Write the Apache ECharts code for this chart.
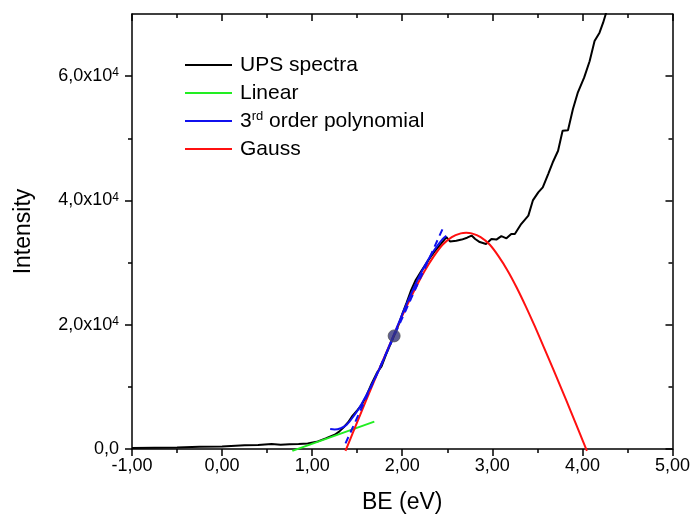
<!DOCTYPE html>
<html><head><meta charset="utf-8">
<script src="https://cdn.jsdelivr.net/npm/echarts@6/dist/echarts.min.js"></script>
<style>html,body{margin:0;padding:0;background:#fff}#c{width:693px;height:519px}</style>
</head><body><div id="c"></div>
<script>
// UPS spectrum (BE in eV, intensity)
const upsBE = [-1.00,-0.75,-0.50,-0.25,0.00,0.10,0.25,0.40,0.55,0.65,0.75,0.85,0.95,1.05,1.15,1.25,1.30,1.35,1.40,1.44,1.50,1.55,1.60,1.66,1.72,1.77,1.82,1.865,1.91,1.96,2.00,2.05,2.10,2.15,2.215,2.30,2.36,2.43,2.49,2.53,2.60,2.66,2.72,2.77,2.81,2.86,2.93,2.99,3.045,3.10,3.157,3.21,3.25,3.32,3.40,3.45,3.51,3.56,3.62,3.67,3.73,3.78,3.84,3.895,3.95,4.02,4.08,4.135,4.19,4.23,4.27];
const upsInt = [150,200,250,350,400,500,600,650,800,700,750,800,900,1150,1700,2300,2800,3500,4300,5200,6200,7100,8500,10500,12300,13300,15200,16700,18200,20000,21700,23600,25600,27200,28700,30600,31800,33000,34100,33400,33500,33700,34000,34350,33800,33300,33000,33800,33700,34250,33900,34600,34600,36200,37550,40000,41300,42100,44250,46100,48000,51200,51300,54700,57400,59800,62400,65650,67000,68600,70500];
// Linear fit
const linBE = [0.78, 1.69];
const linInt = [-300, 4400];
// 3rd order polynomial (solid)
const polyBE = [1.20,1.25,1.31,1.38,1.48,1.55,1.65,1.75,1.85,1.95,2.05,2.15,2.25,2.35,2.45,2.49];
const polyInt = [3200,3150,3300,3850,5700,7300,10000,13000,16400,19900,23400,26600,29500,31900,33800,34300];
// tangent (dashed blue)
const tanBE = [1.37, 2.46];
const tanInt = [900, 35800];
// Gauss fit
const gaussBE = [1.37,1.45,1.55,1.65,1.75,1.85,1.95,2.05,2.15,2.25,2.35,2.45,2.55,2.65,2.71,2.77,2.87,2.97,3.07,3.17,3.27,3.37,3.47,3.57,3.67,3.77,3.87,3.97,4.05];
const gaussInt = [-300,2550,6100,9600,13050,16450,19800,23000,26000,28700,31000,32900,34100,34700,34800,34700,34100,32900,31000,28700,26000,23000,19800,16450,13050,9600,6100,2550,-300];
// marked point
const dotBE = [1.91];
const dotInt = [18200];
// ticks
const yMajor = [0,20000,40000,60000];
const yMinor = [10000,30000,50000];

const zip = (a,b) => a.map((v,i)=>[v,b[i]]);
const FONT = 'Liberation Sans, Arial, sans-serif';
const lineCol = '#000';
const axBase = {type:'value', min:-1, max:5, interval:1};
const chart = echarts.init(document.getElementById('c'));
const yBase = {type:'value', min:0, max:70000, splitLine:{show:false}};
chart.setOption({
  animation:false,
  grid:{left:132, right:19, top:14, bottom:68, containLabel:false},
  legend:{
    orient:'vertical', left:185, top:54, padding:0, itemWidth:47, itemHeight:2, icon:'rect',
    itemGap:6,
    data:['UPS spectra','Linear','3rd order polynomial','Gauss'],
    formatter: n => n==='3rd order polynomial' ? '3{sup|rd} order polynomial' : n,
    textStyle:{fontFamily:FONT, fontSize:21, color:'#000', lineHeight:22, padding:[0,0,0,3],
      rich:{sup:{fontSize:13, verticalAlign:'top', fontFamily:FONT, color:'#000', lineHeight:13}}}
  },
  xAxis:[
    Object.assign({}, axBase, {position:'bottom',
      name:'BE (eV)', nameLocation:'middle', nameGap:42,
      nameTextStyle:{fontFamily:FONT, fontSize:23, color:'#000'},
      axisLine:{onZero:false, lineStyle:{color:lineCol, width:1.5}},
      axisTick:{show:true, inside:false, length:7, lineStyle:{color:lineCol, width:1.5}},
      minorTick:{show:true, splitNumber:2, length:4, lineStyle:{color:lineCol, width:1.5}},
      axisLabel:{margin:8, fontFamily:FONT, fontSize:18, color:'#000',
        formatter: v => v.toFixed(2).replace('.', ',')},
      splitLine:{show:false}}),
    Object.assign({}, axBase, {position:'top',
      axisLine:{onZero:false, lineStyle:{color:lineCol, width:1.5}},
      axisTick:{show:true, inside:true, length:7, lineStyle:{color:lineCol, width:1.5}},
      minorTick:{show:true, splitNumber:2, length:4, lineStyle:{color:lineCol, width:1.5}},
      axisLabel:{show:false}, splitLine:{show:false}})
  ],
  yAxis:[
    Object.assign({}, yBase, {position:'left',
      name:'Intensity', nameLocation:'middle', nameGap:97,
      nameTextStyle:{fontFamily:FONT, fontSize:23, color:'#000'},
      axisLine:{onZero:false, lineStyle:{color:lineCol, width:1.5}},
      axisTick:{show:true, inside:false, length:7, customValues:yMajor, lineStyle:{color:lineCol, width:1.5}},
      axisLabel:{margin:13, fontFamily:FONT, fontSize:18, color:'#000', customValues:yMajor,
        formatter: v => v===0 ? '0,0' : (v/10000)+',0x10{sup|4}',
        rich:{sup:{fontSize:12, verticalAlign:'top', fontFamily:FONT, color:'#000'}}}}),
    Object.assign({}, yBase, {position:'left',
      axisLine:{show:false, onZero:false},
      axisTick:{show:true, inside:false, length:4, customValues:yMinor, lineStyle:{color:lineCol, width:1.5}},
      axisLabel:{show:false}}),
    Object.assign({}, yBase, {position:'right',
      axisLine:{onZero:false, lineStyle:{color:lineCol, width:1.5}},
      axisTick:{show:true, inside:true, length:7, customValues:yMajor, lineStyle:{color:lineCol, width:1.5}},
      axisLabel:{show:false}}),
    Object.assign({}, yBase, {position:'right',
      axisLine:{show:false, onZero:false},
      axisTick:{show:true, inside:true, length:4, customValues:yMinor, lineStyle:{color:lineCol, width:1.5}},
      axisLabel:{show:false}})
  ],
  series:[
    {name:'UPS spectra', type:'line', data:zip(upsBE, upsInt), showSymbol:false, symbol:'none',
      color:'#000', lineStyle:{color:'#000', width:2}, z:2},
    {name:'Linear', type:'line', data:zip(linBE, linInt), showSymbol:false, symbol:'none', clip:false,
      color:'#22ee22', lineStyle:{color:'#22ee22', width:2}, z:3},
    {name:'Gauss', type:'line', data:zip(gaussBE, gaussInt), showSymbol:false, symbol:'none', clip:false, smooth:0.3,
      color:'#ff1010', lineStyle:{color:'#ff1010', width:2}, z:4},
    {name:'3rd order polynomial', type:'line', data:zip(polyBE, polyInt), showSymbol:false, symbol:'none', smooth:0.4,
      color:'#1010ee', lineStyle:{color:'#1010ee', width:2}, z:5},
    {name:'tangent', type:'line', data:zip(tanBE, tanInt), showSymbol:false, symbol:'none',
      color:'#1010ee', lineStyle:{color:'#1010ee', width:2, type:[7,5]}, z:5},
    {name:'point', type:'scatter', data:zip(dotBE, dotInt), symbol:'circle', symbolSize:12,
      itemStyle:{color:'#34347a', borderColor:'#555', borderWidth:1}, z:6}
  ]
});
</script></body></html>
